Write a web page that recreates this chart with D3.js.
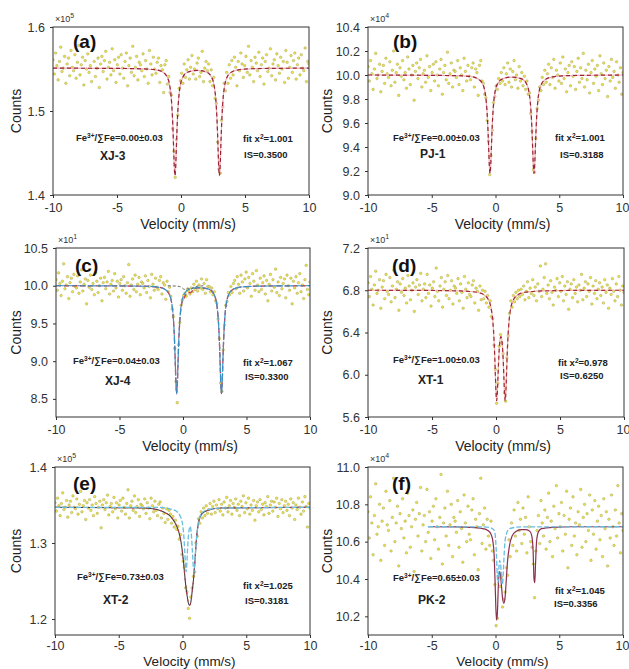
<!DOCTYPE html>
<html><head><meta charset="utf-8">
<script src="https://cdn.jsdelivr.net/npm/d3@7"></script>
<style>body{margin:0;background:#fff} svg{display:block;font-family:"Liberation Sans",Arial,sans-serif}</style>
</head><body><svg id="chart" width="629" height="669"></svg>
<script>
// ---------- data ----------
const velocityTicks = [-10, -5, 0, 5, 10];
const panelLabels = ["(a)", "(b)", "(c)", "(d)", "(e)", "(f)"];
const sampleNames = ["XJ-3", "PJ-1", "XJ-4", "XT-1", "XT-2", "PK-2"];
const fe3Ratios = ["0.00±0.03", "0.00±0.03", "0.04±0.03", "1.00±0.03", "0.73±0.03", "0.65±0.03"];
const fitChi2 = ["1.001", "1.001", "1.067", "0.978", "1.025", "1.045"];
const isomerShift = ["0.3500", "0.3188", "0.3300", "0.6250", "0.3181", "0.3356"];
const exponents = ["5", "4", "1", "1", "5", "4"];
const yDomains = [[1.4, 1.6], [9.0, 10.4], [8.26, 10.5], [5.6, 7.2], [1.179, 1.4], [10.1, 11.0]];
const yTicksA = [1.4, 1.5, 1.6];
const yTicksB = [9.0, 9.2, 9.4, 9.6, 9.8, 10.0, 10.2, 10.4];
const yTicksC = [8.5, 9.0, 9.5, 10.0, 10.5];
const yTicksD = [5.6, 6.0, 6.4, 6.8, 7.2];
const yTicksE = [1.2, 1.3, 1.4];
const yTicksF = [10.2, 10.4, 10.6, 10.8, 11.0];
const velocityRange = [-10, 10]; // 200 channels spanning this range

const countsA = [
1.561,1.544,1.569,1.554,1.537,1.559,1.576,1.547,1.551,1.565,
1.533,1.556,1.563,1.542,1.572,1.552,1.548,1.567,1.539,1.558,
1.578,1.543,1.555,1.564,1.531,1.560,1.550,1.568,1.546,1.554,
1.535,1.573,1.559,1.541,1.551,1.563,1.528,1.556,1.565,1.547,
1.560,1.571,1.538,1.552,1.558,1.543,1.574,1.548,1.561,1.534,
1.555,1.564,1.544,1.567,1.551,1.539,1.559,1.569,1.530,1.554,
1.563,1.546,1.577,1.542,1.552,1.565,1.537,1.558,1.555,1.548,
1.568,1.541,1.560,1.550,1.533,1.572,1.556,1.543,1.564,1.550,
1.545,1.558,1.563,1.534,1.554,1.549,1.522,1.555,1.560,1.532,
1.541,1.522,1.519,1.479,1.452,1.421,1.466,1.495,1.527,1.536,
1.545,1.533,1.556,1.540,1.549,1.561,1.538,1.552,1.566,1.544,
1.550,1.538,1.557,1.563,1.541,1.546,1.571,1.535,1.551,1.559,
1.548,1.556,1.535,1.549,1.530,1.540,1.515,1.509,1.463,1.431,
1.426,1.489,1.505,1.533,1.524,1.546,1.533,1.555,1.539,1.560,
1.543,1.564,1.552,1.530,1.559,1.548,1.569,1.556,1.540,1.554,
1.565,1.546,1.577,1.543,1.560,1.552,1.535,1.564,1.557,1.548,
1.570,1.541,1.555,1.563,1.532,1.559,1.567,1.547,1.551,1.574,
1.542,1.556,1.561,1.537,1.568,1.554,1.545,1.564,1.550,1.559,
1.534,1.572,1.558,1.539,1.552,1.566,1.546,1.560,1.569,1.538,
1.555,1.563,1.543,1.567,1.551,1.548,1.575,1.535,1.559,1.556];

const countsB = [
10.07,9.95,10.12,10.01,9.88,10.05,10.18,9.97,10.00,10.09,
9.86,10.03,10.08,9.93,10.14,10.01,9.98,10.11,9.91,10.04,
10.20,9.94,10.02,10.09,9.83,10.06,9.99,10.12,9.96,10.02,
9.89,10.15,10.05,9.92,10.00,10.08,9.79,10.03,10.10,9.97,
10.06,10.13,9.90,10.01,10.04,9.94,10.16,9.98,10.07,9.87,
10.02,10.09,9.95,10.11,10.00,9.91,10.05,10.13,9.84,10.02,
10.08,9.96,10.19,9.93,10.01,10.10,9.90,10.04,10.03,9.98,
10.12,9.92,10.06,10.00,9.87,10.14,10.03,9.95,10.08,9.99,
9.96,10.06,10.10,9.90,10.05,10.02,9.83,10.08,10.12,9.95,
9.93,9.84,9.81,9.62,9.45,9.17,9.33,9.54,9.77,9.82,
9.91,9.88,9.97,9.93,10.02,9.95,10.06,9.92,10.01,10.10,
9.94,10.05,9.90,10.03,10.12,9.96,10.00,9.89,10.07,9.95,
10.02,9.91,9.99,9.88,9.95,9.84,9.85,9.68,9.53,9.21,
9.19,9.47,9.72,9.79,9.90,9.87,9.98,9.92,10.04,9.94,
10.01,10.09,9.92,10.06,9.98,10.13,9.89,10.04,10.00,9.95,
10.10,9.93,10.15,9.97,10.05,9.86,10.02,10.08,9.91,10.11,
9.99,10.07,9.88,10.03,10.14,9.94,10.06,9.97,10.18,9.90,
10.04,9.96,10.09,9.85,10.02,10.12,9.93,10.05,9.99,10.08,
9.87,10.16,10.01,9.92,10.10,9.97,10.04,9.82,10.07,9.95,
10.13,9.98,10.03,9.89,10.11,10.00,9.94,10.06,9.84,10.02];

const countsC = [
10.08,9.94,10.17,10.03,9.87,10.06,10.29,9.96,10.01,10.12,
9.83,10.04,10.10,9.92,10.15,9.99,9.97,10.13,9.90,10.05,
10.21,9.93,10.02,10.09,9.76,10.07,9.98,10.14,9.95,10.03,
9.88,10.17,10.06,9.91,10.00,10.10,9.80,10.04,10.11,9.96,
10.05,10.19,9.89,10.02,10.07,9.93,10.16,9.97,10.06,9.85,
10.03,10.08,9.94,10.12,10.00,9.90,10.04,10.28,9.86,10.01,
10.09,9.95,10.14,9.92,10.02,10.11,9.88,10.05,10.03,9.97,
10.13,9.91,10.07,9.99,9.84,10.15,10.02,9.94,10.10,9.98,
9.95,10.07,10.12,9.89,10.04,10.01,9.82,10.06,9.92,9.98,
9.86,9.69,9.59,9.17,8.73,8.45,9.22,9.51,9.74,9.81,
9.87,9.90,9.86,9.95,9.93,9.89,9.97,9.92,10.02,9.95,
10.06,9.93,10.01,9.97,10.09,9.95,10.03,9.90,10.08,9.99,
9.99,9.92,9.97,9.88,9.92,9.80,9.77,9.56,9.30,8.71,
8.60,9.15,9.48,9.74,9.79,9.91,9.88,9.99,9.91,10.03,
10.07,9.96,10.12,10.02,9.90,10.14,10.05,9.93,10.09,10.18,
9.97,10.11,10.03,9.86,10.16,10.06,9.94,10.20,10.01,9.92,
10.10,9.95,10.04,10.13,9.89,10.07,9.80,10.02,10.15,9.93,
10.08,9.98,10.22,9.91,10.05,9.87,10.11,9.96,10.03,10.09,
9.84,10.14,10.00,9.94,10.10,9.76,10.06,9.97,10.12,9.90,
10.04,10.16,9.92,10.01,9.83,10.08,10.27,9.95,9.88,10.05];

const countsD = [
6.87,6.74,6.93,6.81,6.66,6.85,6.98,6.77,6.80,6.90,
6.63,6.83,6.89,6.72,6.95,6.79,6.76,6.92,6.69,6.84,
6.99,6.73,6.81,6.88,6.61,6.86,6.78,6.91,6.75,6.82,
6.68,6.94,6.84,6.71,6.80,6.87,6.60,6.83,6.90,6.76,
6.85,6.96,6.70,6.81,6.86,6.73,6.95,6.77,6.85,6.65,
6.82,6.88,6.74,7.01,6.79,6.70,6.84,6.92,6.64,6.81,
6.88,6.75,6.94,6.72,6.80,6.89,6.67,6.84,6.82,6.77,
6.91,6.70,6.86,6.78,6.63,6.93,6.81,6.73,6.87,6.76,
6.74,6.85,6.89,6.68,6.82,6.79,6.61,6.84,6.71,6.80,
6.72,6.79,6.68,6.75,6.64,6.70,6.55,6.53,6.28,6.05,
5.73,5.92,6.27,6.38,6.30,6.20,5.83,5.75,6.16,6.37,
6.58,6.70,6.64,6.75,6.69,6.78,6.72,6.80,6.74,6.81,
6.76,6.84,6.71,6.79,6.88,6.73,6.82,6.77,6.90,6.75,
6.83,6.70,6.86,6.79,7.03,6.74,6.81,6.92,7.05,6.77,
6.85,6.72,6.89,6.78,6.66,6.83,6.80,6.91,6.74,6.87,
6.79,6.93,6.70,6.84,6.76,6.88,6.62,6.81,6.86,6.73,
6.90,6.77,6.83,6.69,6.85,6.80,6.95,6.71,6.82,6.88,
6.74,6.86,6.79,6.92,6.67,6.84,6.77,6.89,6.72,6.81,
6.87,6.75,6.83,6.68,6.90,6.78,6.85,6.63,6.82,6.76,
6.91,6.79,6.70,6.86,6.74,6.93,6.80,6.66,6.84,6.78];

const countsE = [
1.353,1.342,1.359,1.349,1.336,1.352,1.366,1.344,1.347,1.356,
1.334,1.350,1.355,1.340,1.362,1.347,1.345,1.358,1.338,1.351,
1.368,1.341,1.349,1.356,1.331,1.353,1.346,1.357,1.343,1.350,
1.336,1.361,1.352,1.339,1.347,1.355,1.320,1.350,1.357,1.344,
1.353,1.363,1.337,1.348,1.352,1.341,1.360,1.345,1.353,1.333,
1.350,1.356,1.342,1.359,1.347,1.338,1.352,1.370,1.333,1.349,
1.355,1.343,1.362,1.340,1.348,1.357,1.335,1.351,1.349,1.345,
1.358,1.339,1.353,1.346,1.332,1.359,1.349,1.341,1.355,1.343,
1.336,1.351,1.354,1.333,1.346,1.339,1.327,1.345,1.331,1.343,
1.338,1.326,1.335,1.321,1.330,1.318,1.322,1.305,1.311,1.285,
1.276,1.268,1.241,1.236,1.214,1.201,1.229,1.241,1.256,1.262,
1.300,1.309,1.332,1.326,1.341,1.333,1.346,1.336,1.349,1.339,
1.344,1.352,1.338,1.348,1.355,1.340,1.350,1.345,1.357,1.342,
1.351,1.337,1.354,1.346,1.360,1.341,1.349,1.356,1.338,1.352,
1.347,1.358,1.343,1.351,1.336,1.355,1.348,1.362,1.340,1.353,
1.345,1.359,1.338,1.350,1.343,1.356,1.330,1.349,1.354,1.341,
1.357,1.344,1.351,1.337,1.353,1.348,1.361,1.339,1.350,1.355,
1.342,1.354,1.347,1.359,1.335,1.352,1.345,1.357,1.340,1.349,
1.355,1.343,1.351,1.336,1.358,1.346,1.353,1.331,1.350,1.344,
1.359,1.347,1.338,1.354,1.342,1.361,1.348,1.321,1.352,1.346];

const countsF = [
10.76,10.62,10.84,10.70,10.53,10.74,10.91,10.64,10.68,10.80,
10.50,10.71,10.78,10.58,10.87,10.69,10.66,10.82,10.55,10.73,
10.94,10.60,10.70,10.79,10.47,10.75,10.67,10.83,10.62,10.71,
10.54,10.86,10.74,10.57,10.68,10.77,10.44,10.72,10.81,10.63,
10.75,10.89,10.55,10.69,10.74,10.60,10.88,10.65,10.76,10.51,
10.71,10.79,10.61,10.83,10.68,10.56,10.73,10.96,10.48,10.70,
10.78,10.63,10.87,10.58,10.69,10.80,10.52,10.73,10.71,10.65,
10.82,10.57,10.76,10.67,10.49,10.85,10.70,10.60,10.79,10.64,
10.61,10.77,10.83,10.53,10.72,10.68,10.45,10.75,10.94,10.59,
10.69,10.78,10.56,10.72,10.63,10.58,10.71,10.55,10.50,10.37,
10.15,10.19,10.43,10.36,10.41,10.25,10.29,10.33,10.46,10.42,
10.61,10.52,10.70,10.58,10.77,10.63,10.55,10.81,10.66,10.72,
10.59,10.78,10.64,10.73,10.54,10.84,10.68,10.60,10.57,10.48,
10.30,10.55,10.66,10.74,10.59,10.82,10.70,10.63,10.77,10.56,
10.73,10.86,10.60,10.71,10.52,10.79,10.67,10.90,10.62,10.75,
10.68,10.81,10.55,10.74,10.64,10.87,10.46,10.72,10.78,10.58,
10.84,10.63,10.70,10.53,10.76,10.69,10.88,10.57,10.73,10.80,
10.60,10.75,10.66,10.85,10.50,10.77,10.64,10.82,10.56,10.71,
10.79,10.61,10.74,10.52,10.83,10.67,10.76,10.47,10.72,10.62,
10.85,10.68,10.58,10.77,10.63,10.90,10.70,10.54,10.75,10.66];

// fitted envelopes: [velocity, counts]
const fitA = [[-10,1.551],[-5,1.5507],[-3,1.5502],[-2,1.5491],[-1.5,1.547],[-1.1,1.5411],[-0.87,1.5292],[-0.77,1.517],[-0.67,1.4935],[-0.62,1.4752],[-0.57,1.453],[-0.52,1.432],[-0.47,1.423],[-0.42,1.432],[-0.37,1.453],[-0.32,1.475],[-0.27,1.4935],[-0.17,1.517],[-0.07,1.529],[0.15,1.5405],[0.5,1.5461],[1.27,1.5483],[2.0,1.5463],[2.38,1.5405],[2.6,1.5292],[2.7,1.517],[2.8,1.4935],[2.85,1.4752],[2.9,1.453],[2.95,1.432],[3.0,1.423],[3.05,1.432],[3.1,1.453],[3.15,1.475],[3.2,1.4935],[3.3,1.517],[3.4,1.5292],[3.62,1.5411],[4.0,1.5468],[4.5,1.5491],[5.5,1.5503],[7,1.5507],[10,1.551]];
const fitB = [[-10,10.0],[-5,9.997],[-3,9.994],[-2,9.988],[-1.45,9.972],[-1.05,9.933],[-0.83,9.862],[-0.73,9.783],[-0.63,9.633],[-0.58,9.516],[-0.53,9.374],[-0.48,9.239],[-0.43,9.18],[-0.38,9.239],[-0.33,9.374],[-0.28,9.516],[-0.23,9.633],[-0.13,9.783],[-0.03,9.862],[0.19,9.933],[0.55,9.968],[1.3,9.983],[2.05,9.968],[2.4,9.933],[2.62,9.862],[2.72,9.783],[2.82,9.633],[2.87,9.516],[2.92,9.374],[2.97,9.239],[3.02,9.18],[3.07,9.239],[3.12,9.374],[3.17,9.516],[3.22,9.633],[3.32,9.783],[3.42,9.862],[3.65,9.933],[4.0,9.968],[4.5,9.985],[5.5,9.994],[7,9.997],[10,10.0]];
const fitC = [[-10,10],[-5,9.997],[-3,9.993],[-2,9.982],[-1.5,9.96],[-1.1,9.893],[-0.9,9.78],[-0.8,9.65],[-0.7,9.398],[-0.65,9.194],[-0.6,8.935],[-0.55,8.682],[-0.5,8.567],[-0.45,8.68],[-0.4,8.933],[-0.35,9.19],[-0.3,9.392],[-0.2,9.638],[-0.1,9.76],[0.1,9.842],[0.35,9.905],[0.6,9.91],[0.9,9.962],[1.27,9.972],[2.03,9.955],[2.43,9.89],[2.63,9.781],[2.73,9.652],[2.83,9.40],[2.88,9.196],[2.93,8.937],[2.98,8.684],[3.03,8.57],[3.08,8.684],[3.13,8.937],[3.18,9.196],[3.23,9.40],[3.33,9.652],[3.43,9.781],[3.63,9.894],[4.03,9.96],[4.53,9.982],[5.5,9.993],[7,9.997],[10,10]];
const fitCFe2 = [[-10,10],[-5,9.997],[-3,9.993],[-2,9.982],[-1.5,9.96],[-1.1,9.894],[-0.9,9.781],[-0.8,9.652],[-0.7,9.40],[-0.65,9.196],[-0.6,8.937],[-0.55,8.684],[-0.5,8.57],[-0.45,8.684],[-0.4,8.937],[-0.35,9.196],[-0.3,9.40],[-0.2,9.652],[-0.1,9.781],[0.1,9.89],[0.5,9.955],[1.27,9.975],[2.03,9.955],[2.43,9.89],[2.63,9.781],[2.73,9.652],[2.83,9.40],[2.88,9.196],[2.93,8.937],[2.98,8.684],[3.03,8.57],[3.08,8.684],[3.13,8.937],[3.18,9.196],[3.23,9.40],[3.33,9.652],[3.43,9.781],[3.63,9.894],[4.03,9.96],[4.53,9.982],[5.5,9.993],[7,9.997],[10,10]];
const fitCFe3 = [[-1.2,9.999],[-0.8,9.997],[-0.5,9.995],[-0.2,9.985],[-0.05,9.97],[0.1,9.952],[0.25,9.965],[0.35,9.968],[0.45,9.965],[0.6,9.952],[0.75,9.97],[0.9,9.985],[1.2,9.995],[1.6,9.998]];
const fitD = [[-10,6.8],[-5,6.798],[-3,6.794],[-2,6.788],[-1.5,6.781],[-1,6.761],[-0.6,6.712],[-0.4,6.64],[-0.25,6.508],[-0.15,6.322],[-0.1,6.177],[-0.05,6.0],[0,5.833],[0.05,5.754],[0.1,5.814],[0.15,5.962],[0.2,6.117],[0.25,6.237],[0.3,6.314],[0.385,6.361],[0.47,6.314],[0.52,6.237],[0.57,6.117],[0.62,5.962],[0.67,5.814],[0.72,5.754],[0.77,5.833],[0.82,6.0],[0.87,6.177],[0.92,6.322],[1.02,6.508],[1.17,6.64],[1.37,6.712],[1.77,6.761],[2.27,6.781],[2.77,6.788],[3.77,6.794],[5.77,6.798],[10,6.8]];
const fitE = [[-10,1.347],[-3,1.346],[-2,1.344],[-1.5,1.341],[-1,1.336],[-0.6,1.327],[-0.3,1.315],[-0.1,1.30],[0.05,1.28],[0.15,1.262],[0.25,1.245],[0.35,1.232],[0.45,1.222],[0.55,1.218],[0.65,1.222],[0.75,1.235],[0.85,1.25],[0.95,1.27],[1.05,1.295],[1.15,1.315],[1.3,1.330],[1.5,1.338],[2,1.343],[3,1.346],[10,1.347]];
const fitEFe3 = [[-10,1.347],[-2,1.347],[-1,1.345],[-0.5,1.342],[-0.2,1.336],[0,1.325],[0.1,1.31],[0.18,1.288],[0.23,1.272],[0.28,1.262],[0.33,1.27],[0.4,1.293],[0.5,1.315],[0.6,1.322],[0.7,1.31],[0.78,1.288],[0.85,1.268],[0.9,1.262],[0.95,1.268],[1.02,1.288],[1.12,1.31],[1.25,1.328],[1.5,1.339],[2,1.344],[3,1.346],[10,1.347]];
const fitF = [[-5.3,10.68],[-3,10.679],[-2,10.677],[-1,10.67],[-0.6,10.66],[-0.35,10.64],[-0.2,10.6],[-0.1,10.52],[-0.03,10.38],[0.03,10.24],[0.09,10.18],[0.15,10.22],[0.22,10.36],[0.3,10.44],[0.38,10.43],[0.46,10.37],[0.55,10.3],[0.65,10.27],[0.75,10.30],[0.85,10.40],[0.95,10.50],[1.1,10.58],[1.3,10.63],[1.6,10.655],[2.0,10.665],[2.4,10.665],[2.7,10.655],[2.85,10.63],[2.95,10.55],[3.02,10.40],[3.08,10.38],[3.14,10.48],[3.22,10.6],[3.35,10.65],[3.6,10.67],[4.5,10.677],[6,10.68],[10,10.68]];
const fitFFe3 = [[-5.3,10.68],[-1,10.679],[-0.4,10.675],[-0.1,10.66],[0.0,10.62],[0.08,10.52],[0.15,10.40],[0.2,10.38],[0.26,10.45],[0.32,10.50],[0.4,10.48],[0.48,10.40],[0.55,10.37],[0.62,10.45],[0.72,10.58],[0.85,10.64],[1.1,10.67],[2,10.679],[10,10.68]];

// ---------- layout / style ----------
const panels = [
  {L:53, T:27, R:309, B:195, yTicks:yTicksA, counts:countsA,
   lines:[{d:fitA, c:"#eab0b6", w:1.2}, {d:fitA, c:"#9b2335", w:1.2, dash:"4,3"}],
   txt:{fe:[23,114], nm:[47,133], fit:[190,115], is:[191,131]}, lab:[20,21]},
  {L:368, T:27, R:623, B:195, yTicks:yTicksB, counts:countsB,
   lines:[{d:fitB, c:"#eab0b6", w:1.2}, {d:fitB, c:"#9b2335", w:1.2, dash:"4,3"}],
   txt:{fe:[25,114], nm:[52,131], fit:[187,114], is:[192,131]}, lab:[25,21]},
  {L:56, T:248, R:310, B:417, yTicks:yTicksC, counts:countsC,
   lines:[{d:fitC, c:"#d0394b", w:1.3, dash:"5,3"}, {d:fitCFe2, c:"#3b8fc4", w:1.2, dash:"9,1.5"}, {d:fitCFe3, c:"#666", w:1, dash:"3,2"}],
   txt:{fe:[17,116], nm:[49,137], fit:[187,118], is:[189,132]}, lab:[19,24]},
  {L:368, T:248, R:624, B:417, yTicks:yTicksD, counts:countsD,
   lines:[{d:fitD, c:"#eeb8a8", w:1.2}, {d:fitD, c:"#a3283a", w:1.2, dash:"4,3"}],
   txt:{fe:[25,115], nm:[50,136], fit:[190,118], is:[192,131]}, lab:[24,24]},
  {L:55, T:467, R:310, B:635, yTicks:yTicksE, counts:countsE,
   lines:[{d:fitE, c:"#4a3c40", w:1.1}, {d:fitE, c:"#c23a4c", w:1.1, dash:"2,5"}, {d:fitEFe3, c:"#68bde0", w:1.3, dash:"5,2"}],
   txt:{fe:[22,113], nm:[48,137], fit:[188,122], is:[190,137]}, lab:[18,23]},
  {L:368, T:467, R:623, B:635, yTicks:yTicksF, counts:countsF,
   lines:[{d:fitF, c:"#8b2f4f", w:1.2}, {d:fitFFe3, c:"#68bde0", w:1.3, dash:"5,2"}],
   txt:{fe:[25,114], nm:[50,137], fit:[187,127], is:[186,140]}, lab:[24,23]}
];

const svg = d3.select("#chart");
svg.append("rect").attr("width", 629).attr("height", 669).attr("fill", "#fff");

panels.forEach((p, i) => {
  const x = d3.scaleLinear().domain(velocityRange).range([p.L, p.R]);
  const y = d3.scaleLinear().domain(yDomains[i]).range([p.B, p.T]);
  const chan = d3.scaleLinear().domain([0, p.counts.length - 1]).range(velocityRange);
  const g = svg.append("g");
  const rightCol = p.L > 200;
  const bottomRow = p.B > 600;

  const clipId = "clip" + i;
  g.append("clipPath").attr("id", clipId).append("rect")
    .attr("x", p.L).attr("y", p.T).attr("width", p.R - p.L).attr("height", p.B - p.T);

  // axes
  const xa = g.append("g").attr("transform", `translate(0,${p.B})`)
    .call(d3.axisBottom(x).tickValues(velocityTicks).tickSize(3).tickPadding(bottomRow ? 3 : 5).tickFormat(d => String(d)));
  const ya = g.append("g").attr("transform", `translate(${p.L},0)`)
    .call(d3.axisLeft(y).tickValues(p.yTicks).tickSize(3).tickPadding(5).tickFormat(d3.format(".1f")));
  [xa, ya].forEach(a => {
    a.select(".domain").remove();
    a.selectAll("line").attr("stroke", "#333");
    a.selectAll("text").attr("fill", "#333").style("font-size", "12.5px")
      .style("font-family", '"Liberation Sans",Arial,sans-serif');
  });
  if (rightCol) {
    xa.selectAll(".tick").filter(d => d === 10).select("text").attr("text-anchor", "end").attr("dx", 6);
  }

  // data points
  const pg = g.append("g").attr("clip-path", `url(#${clipId})`);
  pg.selectAll("circle").data(p.counts).join("circle")
    .attr("cx", (d, k) => x(chan(k))).attr("cy", d => y(d)).attr("r", 1.3)
    .attr("fill", "#ece24e").attr("stroke", "#8e8b4a").attr("stroke-width", 0.35);

  // fit lines
  const line = d3.line().x(d => x(d[0])).y(d => y(d[1])).curve(d3.curveMonotoneX);
  p.lines.forEach(l => {
    pg.append("path").attr("d", line(l.d)).attr("fill", "none")
      .attr("stroke", l.c).attr("stroke-width", l.w)
      .attr("stroke-dasharray", l.dash || null);
  });

  // frame
  g.append("rect").attr("x", p.L).attr("y", p.T).attr("width", p.R - p.L).attr("height", p.B - p.T)
    .attr("fill", "none").attr("stroke", "#333").attr("stroke-width", 1);

  // exponent label
  const ex = g.append("text").attr("x", p.L + 2).attr("y", p.T - 5).attr("fill", "#333").style("font-size", "9px");
  ex.append("tspan").text("×10");
  ex.append("tspan").attr("dy", -4).style("font-size", "7px").text(exponents[i]);

  // panel letter
  g.append("text").attr("x", p.L + p.lab[0]).attr("y", p.T + p.lab[1])
    .style("font-size", "19px").style("font-weight", "bold").attr("fill", "#111").text(panelLabels[i]);

  // annotations
  const fe = g.append("text").attr("x", p.L + p.txt.fe[0]).attr("y", p.T + p.txt.fe[1])
    .style("font-size", "9.5px").style("font-weight", "bold").attr("fill", "#222");
  fe.append("tspan").text("Fe");
  fe.append("tspan").attr("dy", -3.5).style("font-size", "6.5px").text("3+");
  fe.append("tspan").attr("dy", 3.5).text("/∑Fe=" + fe3Ratios[i]);

  g.append("text").attr("x", p.L + p.txt.nm[0]).attr("y", p.T + p.txt.nm[1])
    .style("font-size", "12px").style("font-weight", "bold").attr("fill", "#222").text(sampleNames[i]);

  const ft = g.append("text").attr("x", p.L + p.txt.fit[0]).attr("y", p.T + p.txt.fit[1])
    .style("font-size", "9.5px").style("font-weight", "bold").attr("fill", "#222");
  ft.append("tspan").text("fit x");
  ft.append("tspan").attr("dy", -3.5).style("font-size", "6.5px").text("2");
  ft.append("tspan").attr("dy", 3.5).text("=" + fitChi2[i]);

  g.append("text").attr("x", p.L + p.txt.is[0]).attr("y", p.T + p.txt.is[1])
    .style("font-size", "9.5px").style("font-weight", "bold").attr("fill", "#222").text("IS=" + isomerShift[i]);

  // axis titles
  const titleY = bottomRow ? 666 : p.B + 34;
  g.append("text").attr("x", (p.L + p.R) / 2 + 7).attr("y", titleY)
    .attr("text-anchor", "middle").style("font-size", bottomRow ? "13.5px" : "14px").attr("fill", "#222").text("Velocity (mm/s)");
  const cx = rightCol ? 327 : 16;
  g.append("text").attr("transform", `translate(${cx + 5},${(p.T + p.B) / 2}) rotate(-90)`)
    .attr("text-anchor", "middle").style("font-size", "14px").attr("fill", "#222").text("Counts");
});
</script></body></html>
